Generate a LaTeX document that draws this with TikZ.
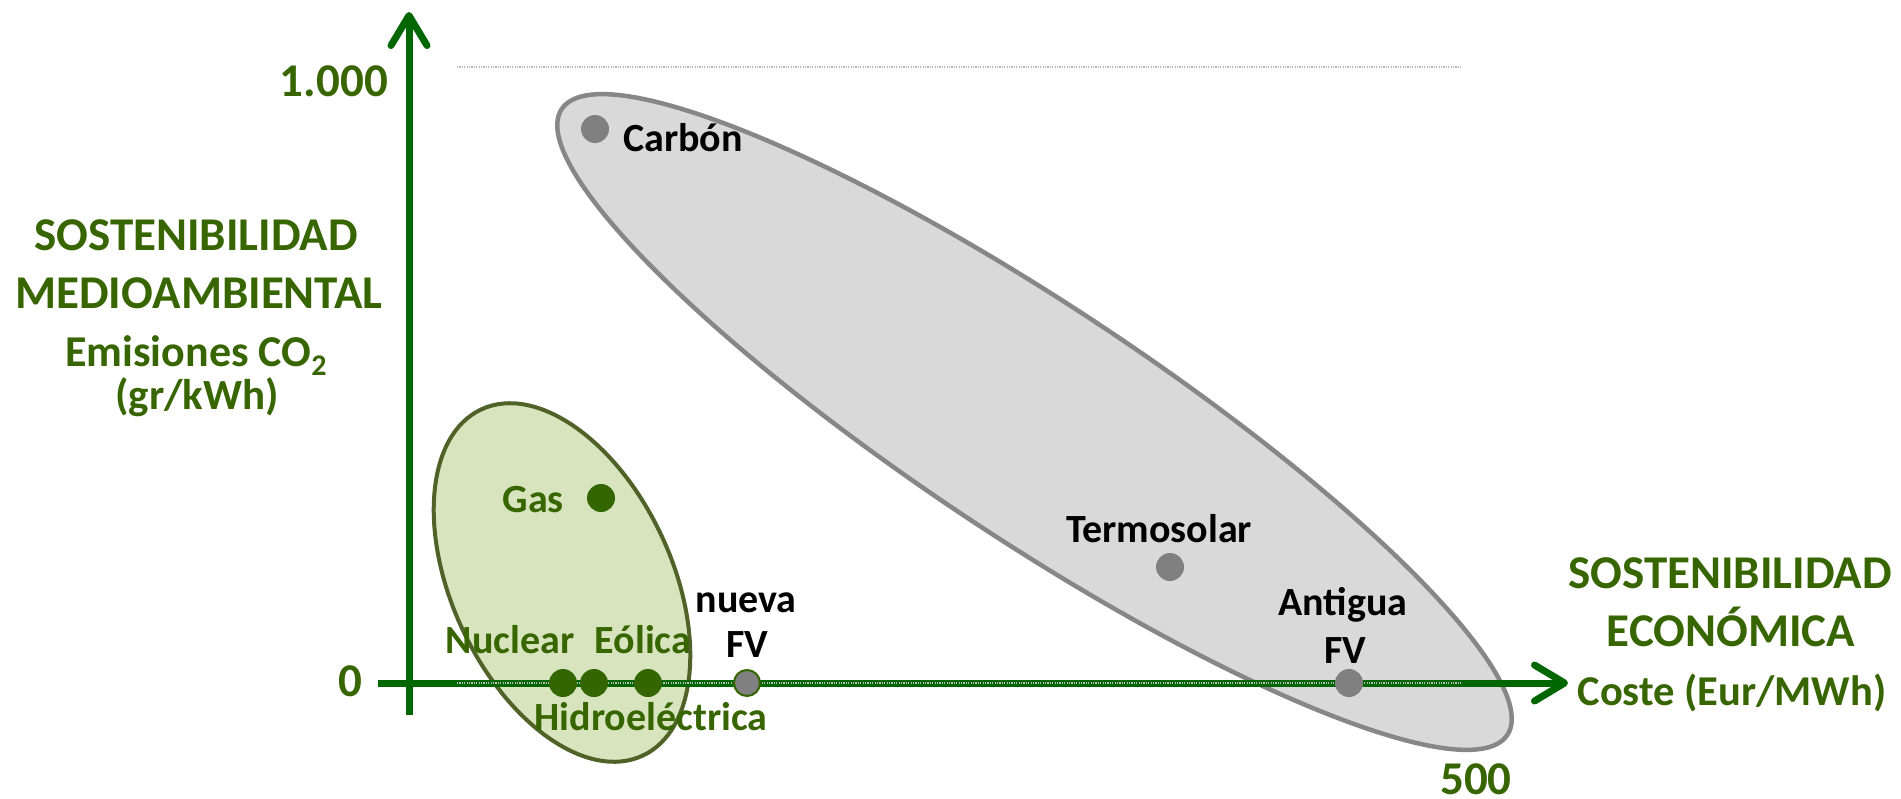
\documentclass[tikz,border=0pt]{standalone}
\usepackage{fontspec}
\setmainfont{Carlito}
\usetikzlibrary{arrows.meta}
\definecolor{axisgreen}{HTML}{006600}
\definecolor{textgreen}{HTML}{376600}
\definecolor{dotgreen}{HTML}{336600}
\definecolor{greenfill}{HTML}{D7E4BD}
\definecolor{greenline}{HTML}{4F6228}
\definecolor{greyfill}{HTML}{D9D9D9}
\definecolor{greyline}{HTML}{878787}
\definecolor{dotgrey}{HTML}{808080}

\begin{document}
\begin{tikzpicture}[x=1pt,y=-1pt,
		axis/.style={line width=7pt,axisgreen,-{Straight Barb[length=30pt,width=36pt,round]}},
		gridline/.style={line width=1.2pt,gray!55,dash pattern=on 1.2pt off 1.2pt},
		txt/.style={font=\fontsize{40}{48}\selectfont\bfseries,inner sep=0pt,anchor=base},
		big/.style={font=\fontsize{47}{56}\selectfont\bfseries},
		gtxt/.style={txt,textgreen},
		btxt/.style={txt,black},
		dot/.style={circle,inner sep=0pt,minimum size=28pt},
		greendot/.style={dot,fill=dotgreen},
		greydot/.style={dot,fill=dotgrey}]
	\useasboundingbox (0,0) rectangle (1901,798);
	% grupos
	\draw[line width=4.5pt,greyline,fill=greyfill,rotate around={-33.5:(1034.5,422)}] (1034.5,422) ellipse [x radius=567,y radius=117];
	\draw[line width=4pt,greenline,fill=greenfill,rotate around={-65:(562,582.5)}] (562,582.5) ellipse [x radius=191,y radius=110];
	% ejes
	\coordinate (ybot) at (409,715);
	\coordinate (ytop) at (409,12);
	\coordinate (xleft) at (378,683);
	\coordinate (xright) at (1568,683);
	\draw[axis] (ybot) -- (ytop);
	\draw[axis] (xleft) -- (xright);
	\draw[gridline] (457,67) -- (1461,67);
	\draw[gridline] (457,683) -- (1461,683);
	% puntos
	\node[greydot] (carbon) at (595,129) {};
	\node[greydot] (termo) at (1170,567) {};
	\node[greydot] (antigua) at (1349,683) {};
	\node[greydot,draw=dotgreen,line width=2pt,minimum size=26pt] (nueva) at (747,683) {};
	\node[greendot] (gas) at (601,498) {};
	\foreach \n/\x in {nuclear/563,hidro/594,eolica/648} \node[greendot] (\n) at (\x,683) {};
	% textos
	\node[gtxt,big] (ylabA) at (196,250) {SOSTENIBILIDAD};
	\node[gtxt,big] (ylabB) at (199,308) {MEDIOAMBIENTAL};
	\node[gtxt,font=\fontsize{44}{50}\selectfont\bfseries] (ylabC) at (196,366) {Emisiones CO\raisebox{-0.22em}{\fontsize{30}{30}\selectfont 2}};
	\node[gtxt,font=\fontsize{43}{50}\selectfont\bfseries] (ylabD) at (197,409) {(gr/kWh)};
	\node[gtxt,big] (xlabA) at (1730,588) {SOSTENIBILIDAD};
	\node[gtxt,big] (xlabB) at (1731,646) {ECONÓMICA};
	\node[gtxt,font=\fontsize{42.5}{50}\selectfont\bfseries] (xlabC) at (1732,705) {Coste (Eur/MWh)};
	\node[gtxt,big,anchor=base east] (ymax) at (388,96) {1.000};
	\node[gtxt,big] (cero) at (350,696) {0};
	\node[gtxt,big] (xmax) at (1476,794) {500};
	\node[btxt,anchor=base west] (carbonlab) at (623,151) {Carbón};
	\node[btxt] (termolab) at (1159,542) {Termosolar};
	\node[btxt] (antigualabA) at (1343,615) {Antigua};
	\node[btxt] (antigualabB) at (1345,663) {FV};
	\node[btxt] (nuevalabA) at (746,612) {nueva};
	\node[btxt] (nuevalabB) at (747,657) {FV};
	\node[gtxt,anchor=base east] (gaslab) at (564,512) {Gas};
	\node[gtxt] (nuclearlab) at (510,653) {Nuclear};
	\node[gtxt] (eolicalab) at (643,653) {Eólica};
	\node[gtxt] (hidrolab) at (651,730) {Hidroeléctrica};
\end{tikzpicture}
\end{document}
